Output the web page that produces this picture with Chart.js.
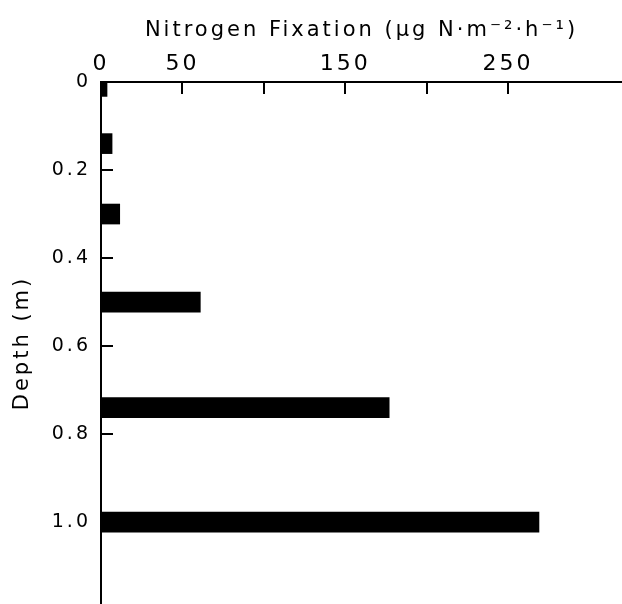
<!DOCTYPE html>
<html lang="en">
<head>
    <meta charset="UTF-8">
    <title>Nitrogen Fixation vs Depth</title>
    <script src="https://cdn.jsdelivr.net/npm/chart.js"></script>
    <style>
        body { margin: 0; background: #ffffff; }
        #wrap { width: 622px; height: 604px; }
    </style>
</head>
<body>
    <div id="wrap"><canvas id="chart" width="622" height="604"></canvas></div>

    <script>
        // depth of each sample (m) and nitrogen fixation rate
        const depths = [0.01, 0.14, 0.3, 0.5, 0.74, 1.0];
        const fixation = [3.7, 6.8, 11.5, 61, 177, 269];

        // tick marks and the labels that the original figure prints
        const xTicks = [0, 50, 100, 150, 200, 250];
        const xLabelled = [0, 50, 150, 250];
        const yTicks = [0, 0.2, 0.4, 0.6, 0.8, 1.0];

        const font = "'DejaVu Sans', sans-serif";

        // the old typeset labels are widely spaced
        const spacing = {
            id: 'spacing',
            beforeLayout(chart) { chart.ctx.letterSpacing = '3px'; },
            beforeDraw(chart) { chart.ctx.letterSpacing = '3px'; }
        };

        // short tick marks drawn inward from each axis line
        const inwardTicks = {
            id: 'inwardTicks',
            afterDatasetsDraw(chart) {
                const ctx = chart.ctx;
                const xs = chart.scales.x, ys = chart.scales.y;
                const area = chart.chartArea;
                ctx.save();
                ctx.strokeStyle = '#000';
                ctx.lineWidth = 2;
                xTicks.forEach(v => {
                    if (v === 0) return;
                    const px = Math.round(xs.getPixelForValue(v));
                    ctx.beginPath();
                    ctx.moveTo(px, area.top);
                    ctx.lineTo(px, area.top + 12);
                    ctx.stroke();
                });
                yTicks.forEach(v => {
                    if (v === 0) return;
                    const py = Math.round(ys.getPixelForValue(v));
                    ctx.beginPath();
                    ctx.moveTo(area.left, py);
                    ctx.lineTo(area.left + 12, py);
                    ctx.stroke();
                });
                ctx.restore();
            }
        };

        new Chart(document.getElementById('chart'), {
            type: 'bar',
            data: {
                datasets: [{
                    data: depths.map((d, i) => ({ x: fixation[i], y: d })),
                    backgroundColor: '#000',
                    borderWidth: 0,
                    barThickness: 20
                }]
            },
            options: {
                indexAxis: 'y',
                responsive: false,
                animation: false,
                layout: { padding: 0 },
                plugins: {
                    legend: { display: false },
                    tooltip: { enabled: false }
                },
                scales: {
                    x: {
                        type: 'linear',
                        position: 'top',
                        min: 0,
                        max: 320,
                        offset: false,
                        afterBuildTicks: s => { s.ticks = xTicks.map(v => ({ value: v })); },
                        afterFit: s => { s.height = 82; s.paddingLeft = 0; s.paddingRight = 0; },
                        grid: { drawOnChartArea: false, drawTicks: false },
                        border: { display: true, color: '#000', width: 2 },
                        ticks: {
                            color: '#000',
                            padding: 5,
                            maxRotation: 0,
                            font: { family: font, size: 22 },
                            callback: v => xLabelled.includes(v) ? String(v) : ''
                        },
                        title: {
                            display: true,
                            text: 'Nitrogen Fixation (\u00b5g N\u00b7m\u207b\u00b2\u00b7h\u207b\u00b9)',
                            color: '#000',
                            font: { family: font, size: 21 },
                            padding: { top: 18, bottom: 4 }
                        }
                    },
                    y: {
                        type: 'linear',
                        reverse: true,
                        min: 0,
                        max: 1.186,
                        offset: false,
                        afterBuildTicks: s => { s.ticks = yTicks.map(v => ({ value: v })); },
                        afterFit: s => { s.width = 101; s.paddingTop = 0; s.paddingBottom = 0; },
                        grid: { drawOnChartArea: false, drawTicks: false },
                        border: { display: true, color: '#000', width: 2 },
                        ticks: {
                            color: '#000',
                            padding: 10,
                            font: { family: font, size: 19 },
                            callback: v => v === 0 ? '0' : v.toFixed(1)
                        },
                        title: {
                            display: true,
                            text: 'Depth (m)',
                            color: '#000',
                            font: { family: font, size: 21 },
                            padding: { top: 10, bottom: 0 }
                        }
                    }
                }
            },
            plugins: [spacing, inwardTicks]
        });
    </script>
</body>
</html>
